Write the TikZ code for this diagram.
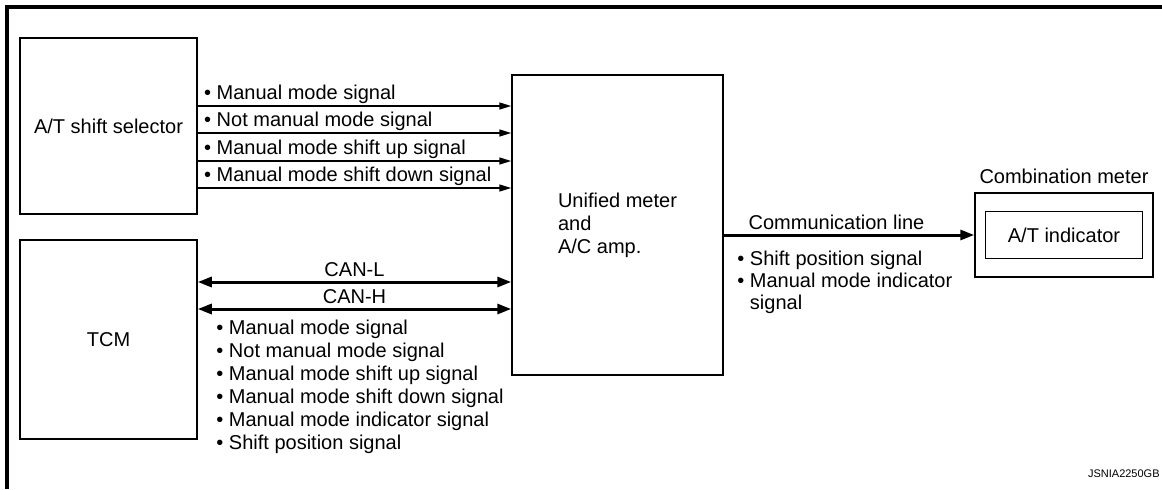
\documentclass[tikz,border=0pt]{standalone}
\usepackage{fontspec}
\setmainfont{Liberation Sans}
\usetikzlibrary{arrows.meta,positioning}

\begin{document}
\begin{tikzpicture}[x=0.5pt, y=-0.5pt,
  box/.style={draw, line width=0.75pt, inner sep=0pt, align=center,
              font=\fontsize{10}{11.5}\selectfont},
  lbl/.style={inner sep=0pt, align=left, font=\fontsize{10}{11.5}\selectfont},
  sig/.style={line width=0.75pt, -{Triangle[length=6pt,width=3.5pt]}},
  bus/.style={line width=1.5pt, {Triangle[length=7pt,width=5pt]}-{Triangle[length=7pt,width=5pt]}},
  link/.style={line width=1.5pt, -{Triangle[length=7pt,width=5pt]}}
]
  \useasboundingbox (0,0) rectangle (1162,489);
  \draw[line width=1.75pt] (1162,7) -- (7,7) -- (7,489);

  \node[box, minimum width=88.5pt, minimum height=88pt] (sel) at (108.5,126) {A/T shift selector};
  \node[box, minimum width=88.5pt, minimum height=99.5pt] (tcm) at (108.5,339.5) {TCM};
  \node[box, minimum width=105.5pt, minimum height=150pt, align=left] (uni) at (617.5,225)
        {Unified meter\\and\\A/C amp.};
  \node[box, minimum width=89pt, minimum height=42pt] (cmb) at (1064,235) {};
  \node[box, minimum width=78.5pt, minimum height=23.5pt] (ind) at (cmb.center) {A/T indicator};
  \node[lbl, above=4pt of cmb] (cmbname) {Combination meter};

  \foreach \i/\y/\txt in {1/106/Manual mode signal, 2/133/Not manual mode signal,
                          3/161/Manual mode shift up signal, 4/188/Manual mode shift down signal} {
    \coordinate (s\i) at (sel.east |- 0,\y);
    \draw[sig] (s\i) -- (s\i -| uni.west);
    \node[lbl, above right=1pt and 3pt of s\i] (sl\i) {• \txt};
  }

  \coordinate (canl) at (tcm.east |- 0,282);
  \coordinate (canh) at (tcm.east |- 0,309);
  \draw[bus] (canl) -- (canl -| uni.west) node[lbl, midway, above=2pt] (canlname) {CAN-L};
  \draw[bus] (canh) -- (canh -| uni.west) node[lbl, midway, above=2pt] (canhname) {CAN-H};
  \node[lbl, anchor=north west] (tcmsig) at (216,320)
        {• Manual mode signal\\• Not manual mode signal\\• Manual mode shift up signal\\
         • Manual mode shift down signal\\• Manual mode indicator signal\\• Shift position signal};

  \draw[link] (cmb.west -| uni.east) -- (cmb.west)
        node[lbl, pos=0.45, above=2pt] (comname) {Communication line};
  \node[lbl, anchor=north west, font=\fontsize{10}{11}\selectfont] (comsig) at (737,251)
        {• Shift position signal\\• Manual mode indicator\\\phantom{• }signal};

  \node[inner sep=0pt, anchor=base east, font=\fontsize{5.5}{6}\selectfont] (code) at (1160,477) {JSNIA2250GB};
\end{tikzpicture}
\end{document}
